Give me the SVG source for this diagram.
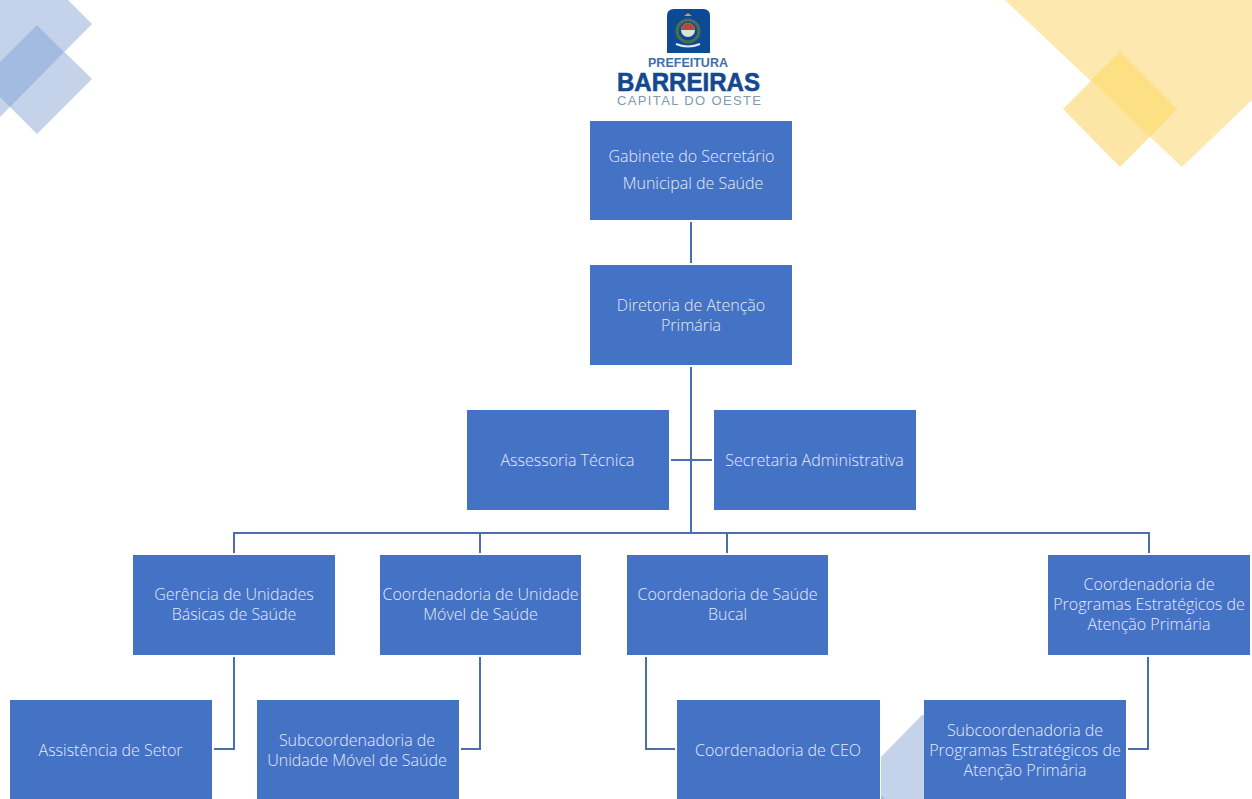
<svg xmlns="http://www.w3.org/2000/svg" width="1252" height="799" viewBox="0 0 1252 799">
<style>
.box{fill:#4472c4}
.t{font-family:"Open Sans","Noto Sans","Liberation Sans",sans-serif;font-weight:300;font-size:16px;fill:#e4ebf6;text-anchor:middle}
.c{fill:none;stroke:#4a6eb0;stroke-width:2}
.b{fill:#c5d3ea}
.b2{fill:#a3bbe0}
.y{fill:#fde9b0}
.y2{fill:#fddf84}
.l{font-family:"Liberation Sans",sans-serif;text-anchor:middle}
</style>
<rect width="1252" height="799" fill="#fff"/>
<g id="decor">
<polygon class="b" points="0,0 68,0 92,24 0,117"/>
<polygon class="b" points="37,25 92,79 37,134 0,97 0,62"/>
<polygon class="b2" points="37,25 64,52 10,107 0,97 0,62"/>
<polygon class="y" points="1005,0 1252,0 1252,100 1182,167"/>
<polygon class="y" points="1120,52 1177,109 1120,167 1063,109" style="fill:#fde5a6"/>
<polygon class="y2" points="1120,52 1177,109 1150,137 1091,80"/>
<polygon class="b" points="881,757 922,715 924,715 924,799 881,799"/>
<polygon class="b2" points="881,795 885,799 881,799"/>
</g>
<g id="logo">
<path d="M674,9H703Q710,9 710,16V53H667V16Q667,9 674,9Z" fill="#0d4a96"/>
<circle cx="688" cy="31" r="11" fill="none" stroke="#4f6f48" stroke-width="3"/>
<circle cx="688" cy="30" r="7" fill="#d9e4d4"/>
<path d="M681,30A7,7 0 0 1 695,30Z" fill="#b5473f"/>
<path d="M684,16L688,13L692,16Z" fill="#c9a24a"/>
<path d="M676,44Q688,49 700,44" fill="none" stroke="#dfe8f5" stroke-width="2"/>
<text class="l" x="688" y="67" font-size="12" font-weight="700" fill="#3f6fa8" textLength="80" lengthAdjust="spacingAndGlyphs">PREFEITURA</text>
<text class="l" x="688.500" y="91" font-size="26" font-weight="700" fill="#14498f" textLength="143" lengthAdjust="spacingAndGlyphs" stroke="#14498f" stroke-width=".6">BARREIRAS</text>
<text class="l" x="689" y="105" font-size="13" fill="#8198ae" textLength="144">CAPITAL DO OESTE</text>
</g>
<g id="connectors">
<path class="c" d="M691,222V263"/>
<path class="c" d="M691,367V532"/>
<path class="c" d="M671,460H712"/>
<path class="c" d="M234,553V533H1149V553"/>
<path class="c" d="M480,533V553"/>
<path class="c" d="M727,533V553"/>
<path class="c" d="M234,657V749H214"/>
<path class="c" d="M480,657V749H461"/>
<path class="c" d="M646,657V749H675"/>
<path class="c" d="M1148,657V749H1128"/>
</g>
<g id="n1"><rect class="box" x="590" y="121" width="202" height="99"/><text class="t" x="691.500" y="162">Gabinete do Secretário</text><text class="t" x="693" y="189">Municipal de Saúde</text></g>
<g id="n2"><rect class="box" x="590" y="265" width="202" height="100"/><text class="t" x="691" y="311">Diretoria de Atenção</text><text class="t" x="691" y="331">Primária</text></g>
<g id="n3"><rect class="box" x="467" y="410" width="202" height="100"/><text class="t" x="567.500" y="466">Assessoria Técnica</text></g>
<g id="n4"><rect class="box" x="714" y="410" width="202" height="100"/><text class="t" x="814.500" y="466">Secretaria Administrativa</text></g>
<g id="n5"><rect class="box" x="133" y="555" width="202" height="100"/><text class="t" x="234" y="600">Gerência de Unidades</text><text class="t" x="234" y="620">Básicas de Saúde</text></g>
<g id="n6"><rect class="box" x="380" y="555" width="201" height="100"/><text class="t" x="480.500" y="600">Coordenadoria de Unidade</text><text class="t" x="480.500" y="620">Móvel de Saúde</text></g>
<g id="n7"><rect class="box" x="627" y="555" width="201" height="100"/><text class="t" x="727.500" y="600">Coordenadoria de Saúde</text><text class="t" x="727.500" y="620">Bucal</text></g>
<g id="n8"><rect class="box" x="1048" y="555" width="202" height="100"/><text class="t" x="1149" y="590">Coordenadoria de</text><text class="t" x="1149" y="610">Programas Estratégicos de</text><text class="t" x="1149" y="630">Atenção Primária</text></g>
<g id="n9"><rect class="box" x="10" y="700" width="202" height="99"/><text class="t" x="110.500" y="756">Assistência de Setor</text></g>
<g id="n10"><rect class="box" x="257" y="700" width="202" height="99"/><text class="t" x="357" y="746">Subcoordenadoria de</text><text class="t" x="357" y="766">Unidade Móvel de Saúde</text></g>
<g id="n11"><rect class="box" x="677" y="700" width="203" height="99"/><text class="t" x="778" y="756">Coordenadoria de CEO</text></g>
<g id="n12"><rect class="box" x="924" y="700" width="202" height="99"/><text class="t" x="1025" y="736">Subcoordenadoria de</text><text class="t" x="1025" y="756">Programas Estratégicos de</text><text class="t" x="1025" y="776">Atenção Primária</text></g>
</svg>
